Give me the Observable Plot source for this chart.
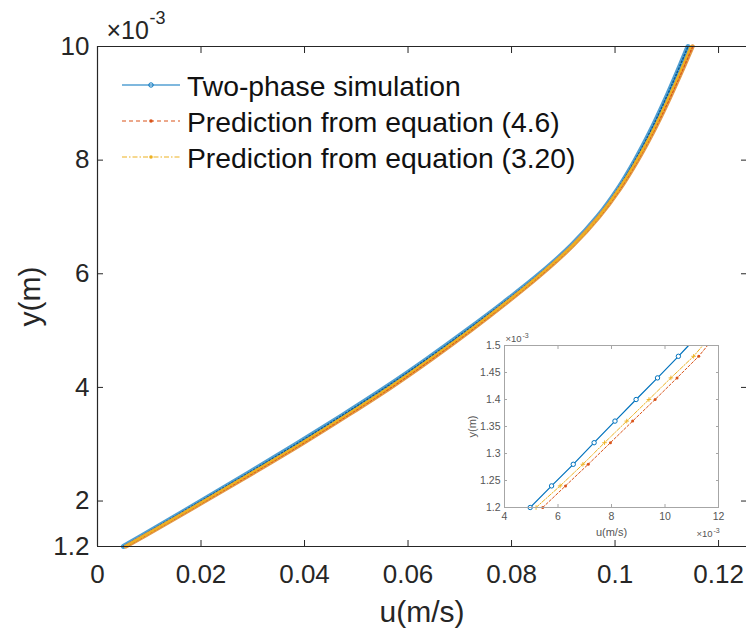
<!DOCTYPE html>
<html><head><meta charset="utf-8">
<script src="https://cdn.jsdelivr.net/npm/d3@7"></script>
<script src="https://cdn.jsdelivr.net/npm/@observablehq/plot@0.6"></script>
<style>
body{margin:0;background:#fff;}
#wrap{position:relative;width:746px;height:633px;overflow:hidden;background:#fff;font-family:"Liberation Sans",Arial,Helvetica,sans-serif;}
#wrap > svg, #wrap > div{position:absolute;}
</style></head><body><div id="wrap"></div>
<script>
// ---------- main chart data (y in units of 1e-3 m, u in m/s) ----------
const yLevels = [1.2, 1.5, 2, 2.5, 3, 3.5, 4, 4.5, 5, 5.5, 6, 6.5, 7, 7.5, 8, 8.5, 9, 9.5, 10];
const uSim    = [0.0050, 0.0107, 0.0200, 0.0293, 0.0384, 0.0472, 0.0557, 0.0637, 0.0713, 0.0786, 0.0855, 0.0916, 0.0966, 0.1006, 0.1039, 0.1068, 0.1094, 0.1118, 0.1141];
const uEq46   = [0.0055, 0.0113, 0.0208, 0.0302, 0.0394, 0.0482, 0.0567, 0.0646, 0.0721, 0.0792, 0.0859, 0.0919, 0.0969, 0.1010, 0.1044, 0.1074, 0.1101, 0.1126, 0.1150];
const uEq320  = [0.0053, 0.0111, 0.0205, 0.0298, 0.0390, 0.0478, 0.0563, 0.0642, 0.0718, 0.0790, 0.0857, 0.0918, 0.0968, 0.1008, 0.1042, 0.1072, 0.1098, 0.1123, 0.1146];
const xTicks = [0, 0.02, 0.04, 0.06, 0.08, 0.1, 0.12];
const xTickLabels = ["0", "0.02", "0.04", "0.06", "0.08", "0.1", "0.12"];
const yTicks = [1.2, 2, 4, 6, 8, 10];
const yTickLabels = ["1.2", "2", "4", "6", "8", "10"];
const seriesNames = ["Two-phase simulation", "Prediction from equation (4.6)", "Prediction from equation (3.20)"];
const seriesColors = ["#0072BD", "#D95319", "#EDB120"];

// ---------- inset data (both axes in units of 1e-3) ----------
const insetY      = [1.20, 1.24, 1.28, 1.32, 1.36, 1.40, 1.44, 1.48];
const insetSim    = [4.96, 5.76, 6.57, 7.35, 8.13, 8.92, 9.72, 10.50];
const insetEq46   = [5.43, 6.28, 7.13, 7.96, 8.79, 9.63, 10.45, 11.26];
const insetEq320  = [5.18, 6.08, 6.93, 7.74, 8.57, 9.40, 10.22, 11.07];
const insetEndY = 1.5;
const insetEndSim = 10.88, insetEndEq46 = 11.59, insetEndEq320 = 11.41;
const insetXTicks = [4, 6, 8, 10, 12];
const insetYTicks = [1.2, 1.25, 1.3, 1.35, 1.4, 1.45, 1.5];
const insetYTickLabels = ["1.2", "1.25", "1.3", "1.35", "1.4", "1.45", "1.5"];

const FONT = '"Liberation Sans", Arial, Helvetica, sans-serif';
const AX = "#262626";

const rows = (ys, us) => ys.map((y, i) => ({y, u: us[i]}));
const sim = rows(yLevels, uSim), e46 = rows(yLevels, uEq46), e320 = rows(yLevels, uEq320);
const CURVE = "catmull-rom";

const main = Plot.plot({
  width: 746, height: 633,
  marginLeft: 97, marginRight: 0, marginTop: 46, marginBottom: 87,
  x: {domain: [0, 0.1254], label: null},
  y: {domain: [1.2, 10], label: null},
  style: {fontFamily: FONT, color: AX, background: "transparent", overflow: "visible"},
  marks: [
    Plot.line(sim, {x: "u", y: "y", curve: CURVE, stroke: "#4f9fd3", strokeWidth: 5}),
    Plot.line(sim, {x: "u", y: "y", curve: CURVE, stroke: "#0a5a92", strokeWidth: 1.6, strokeDasharray: "1.2,2.4"}),
    Plot.line(e46, {x: "u", y: "y", curve: CURVE, stroke: "#e39a45", strokeWidth: 4.2}),
    Plot.line(e46, {x: "u", y: "y", curve: CURVE, stroke: seriesColors[1], strokeWidth: 1.6, strokeDasharray: "1.4,2.6"}),
    Plot.line(e320, {x: "u", y: "y", curve: CURVE, stroke: seriesColors[2], strokeWidth: 2.2, strokeDasharray: "6,2,1.5,2"}),
    Plot.ruleY([1.2, 10], {stroke: AX, strokeWidth: 1.2}),
    Plot.ruleX([0], {stroke: AX, strokeWidth: 1.2}),
    Plot.axisX({ticks: xTicks, tickSize: 0, tickPadding: 18, fontSize: 26, label: null,
                tickFormat: d => xTickLabels[xTicks.indexOf(d)]}),
    Plot.axisX({ticks: xTicks, anchor: "bottom", tickSize: -6, tickFormat: () => "", label: null}),
    Plot.axisX({ticks: xTicks, anchor: "top", tickSize: -6, tickFormat: () => "", label: null}),
    Plot.axisY({ticks: yTicks, tickSize: 0, tickPadding: 8, fontSize: 26, label: null,
                tickFormat: d => yTickLabels[yTicks.indexOf(d)]}),
    Plot.axisY({ticks: yTicks, anchor: "left", tickSize: -6, tickFormat: () => "", label: null}),
    Plot.axisY({ticks: yTicks, anchor: "right", tickSize: -6, tickFormat: () => "", label: null}),
    Plot.text(["u(m/s)"], {frameAnchor: "bottom", lineAnchor: "middle", textAnchor: "middle", dy: 66, fontSize: 30, fill: AX}),
    Plot.text(["y(m)"], {frameAnchor: "left", lineAnchor: "middle", textAnchor: "middle", dx: -67, rotate: -90, fontSize: 30, fill: AX}),
    Plot.text(["\u00d710"], {frameAnchor: "top-left", lineAnchor: "middle", textAnchor: "start", dx: 9, dy: -16, fontSize: 25, fill: AX}),
    Plot.text(["-3"], {frameAnchor: "top-left", lineAnchor: "middle", textAnchor: "start", dx: 52, dy: -28, fontSize: 18, fill: AX})
  ]
});
main.style.left = "0px"; main.style.top = "0px";
document.getElementById("wrap").appendChild(main);

// ---------- legend (drawn inside the axes, no box) ----------
const legendRowsY = [85, 121, 157];
const legendDash = ["", "4,3", "5,2,1.5,2"];
let lg = `<svg width="746" height="633" style="position:absolute;left:0;top:0;pointer-events:none;font-family:${FONT}">`;
seriesNames.forEach((name, i) => {
  const y = legendRowsY[i];
  lg += `<line x1="122" x2="180" y1="${y}" y2="${y}" stroke="${seriesColors[i]}" stroke-width="1.2" ${legendDash[i] ? `stroke-dasharray="${legendDash[i]}"` : ""}/>`;
  if (i === 0) lg += `<circle cx="151" cy="${y}" r="2.2" fill="none" stroke="${seriesColors[i]}" stroke-width="1"/>`;
  else lg += `<circle cx="151" cy="${y}" r="1.8" fill="${seriesColors[i]}"/>`;
  lg += `<text x="187" y="${y + 1}" font-size="28.3" fill="#111" dominant-baseline="central">${name}</text>`;
});
lg += `</svg>`;
document.getElementById("wrap").insertAdjacentHTML("beforeend", lg);

// ---------- inset ----------
const iRows = (ys, us, endU) => [...ys.map((y, i) => ({y, u: us[i]})), {y: insetEndY, u: endU}];
const iSim = iRows(insetY, insetSim, insetEndSim);
const i46 = iRows(insetY, insetEq46, insetEndEq46);
const i320 = iRows(insetY, insetEq320, insetEndEq320);
const mSim = insetY.map((y, i) => ({y, u: insetSim[i]}));
const m46 = insetY.map((y, i) => ({y, u: insetEq46[i]}));
const m320 = insetY.map((y, i) => ({y, u: insetEq320[i]}));
const IG = "#555";

const inset = Plot.plot({
  width: 264, height: 210,
  marginLeft: 40, marginRight: 10, marginTop: 12, marginBottom: 36,
  x: {domain: [4, 12], label: null},
  y: {domain: [1.2, 1.5], label: null},
  style: {fontFamily: FONT, color: IG, background: "transparent", overflow: "visible"},
  marks: [
    Plot.frame({fill: "white", stroke: "none"}),
    Plot.line(iSim, {x: "u", y: "y", stroke: seriesColors[0], strokeWidth: 1.2, clip: true}),
    Plot.line(i46, {x: "u", y: "y", stroke: seriesColors[1], strokeWidth: 1, strokeDasharray: "2.5,2", clip: true}),
    Plot.line(i320, {x: "u", y: "y", stroke: seriesColors[2], strokeWidth: 1, strokeDasharray: "4,1.5,1,1.5", clip: true}),
    Plot.dot(mSim, {x: "u", y: "y", r: 2.2, stroke: seriesColors[0], strokeWidth: 1, fill: "white"}),
    Plot.dot(m46, {x: "u", y: "y", r: 1.5, fill: seriesColors[1], stroke: "none"}),
    Plot.dot(m320, {x: "u", y: "y", r: 1.6, symbol: "plus", stroke: seriesColors[2], strokeWidth: 0.9}),
    Plot.frame({stroke: "#a6a6a6", strokeWidth: 1}),
    Plot.axisX({ticks: insetXTicks, tickSize: 0, tickPadding: 5, fontSize: 10.5, label: null}),
    Plot.axisX({ticks: insetXTicks, anchor: "bottom", tickSize: -3, tickFormat: () => "", label: null, stroke: "#a6a6a6"}),
    Plot.axisX({ticks: insetXTicks, anchor: "top", tickSize: -3, tickFormat: () => "", label: null, stroke: "#a6a6a6"}),
    Plot.axisY({ticks: insetYTicks, tickSize: 0, tickPadding: 4, fontSize: 10.5, label: null,
                tickFormat: d => insetYTickLabels[insetYTicks.indexOf(d)]}),
    Plot.axisY({ticks: insetYTicks, anchor: "left", tickSize: -3, tickFormat: () => "", label: null, stroke: "#a6a6a6"}),
    Plot.axisY({ticks: insetYTicks, anchor: "right", tickSize: -3, tickFormat: () => "", label: null, stroke: "#a6a6a6"}),
    Plot.text(["u(m/s)"], {frameAnchor: "bottom", lineAnchor: "middle", textAnchor: "middle", dy: 25, fontSize: 11, fill: IG}),
    Plot.text(["y(m)"], {frameAnchor: "left", lineAnchor: "middle", textAnchor: "middle", dx: -32, rotate: -90, fontSize: 11, fill: IG}),
    Plot.text(["\u00d710"], {frameAnchor: "top-left", lineAnchor: "middle", textAnchor: "start", dx: 1, dy: -7, fontSize: 9.5, fill: IG}),
    Plot.text(["-3"], {frameAnchor: "top-left", lineAnchor: "middle", textAnchor: "start", dx: 18, dy: -10, fontSize: 7, fill: IG}),
    Plot.text(["\u00d710"], {frameAnchor: "bottom-right", lineAnchor: "middle", textAnchor: "start", dx: -22, dy: 26, fontSize: 9.5, fill: IG}),
    Plot.text(["-3"], {frameAnchor: "bottom-right", lineAnchor: "middle", textAnchor: "start", dx: -5, dy: 23, fontSize: 7, fill: IG})
  ]
});
inset.style.left = (504 - 40) + "px"; inset.style.top = (345 - 12) + "px";
document.getElementById("wrap").appendChild(inset);
</script></body></html>
